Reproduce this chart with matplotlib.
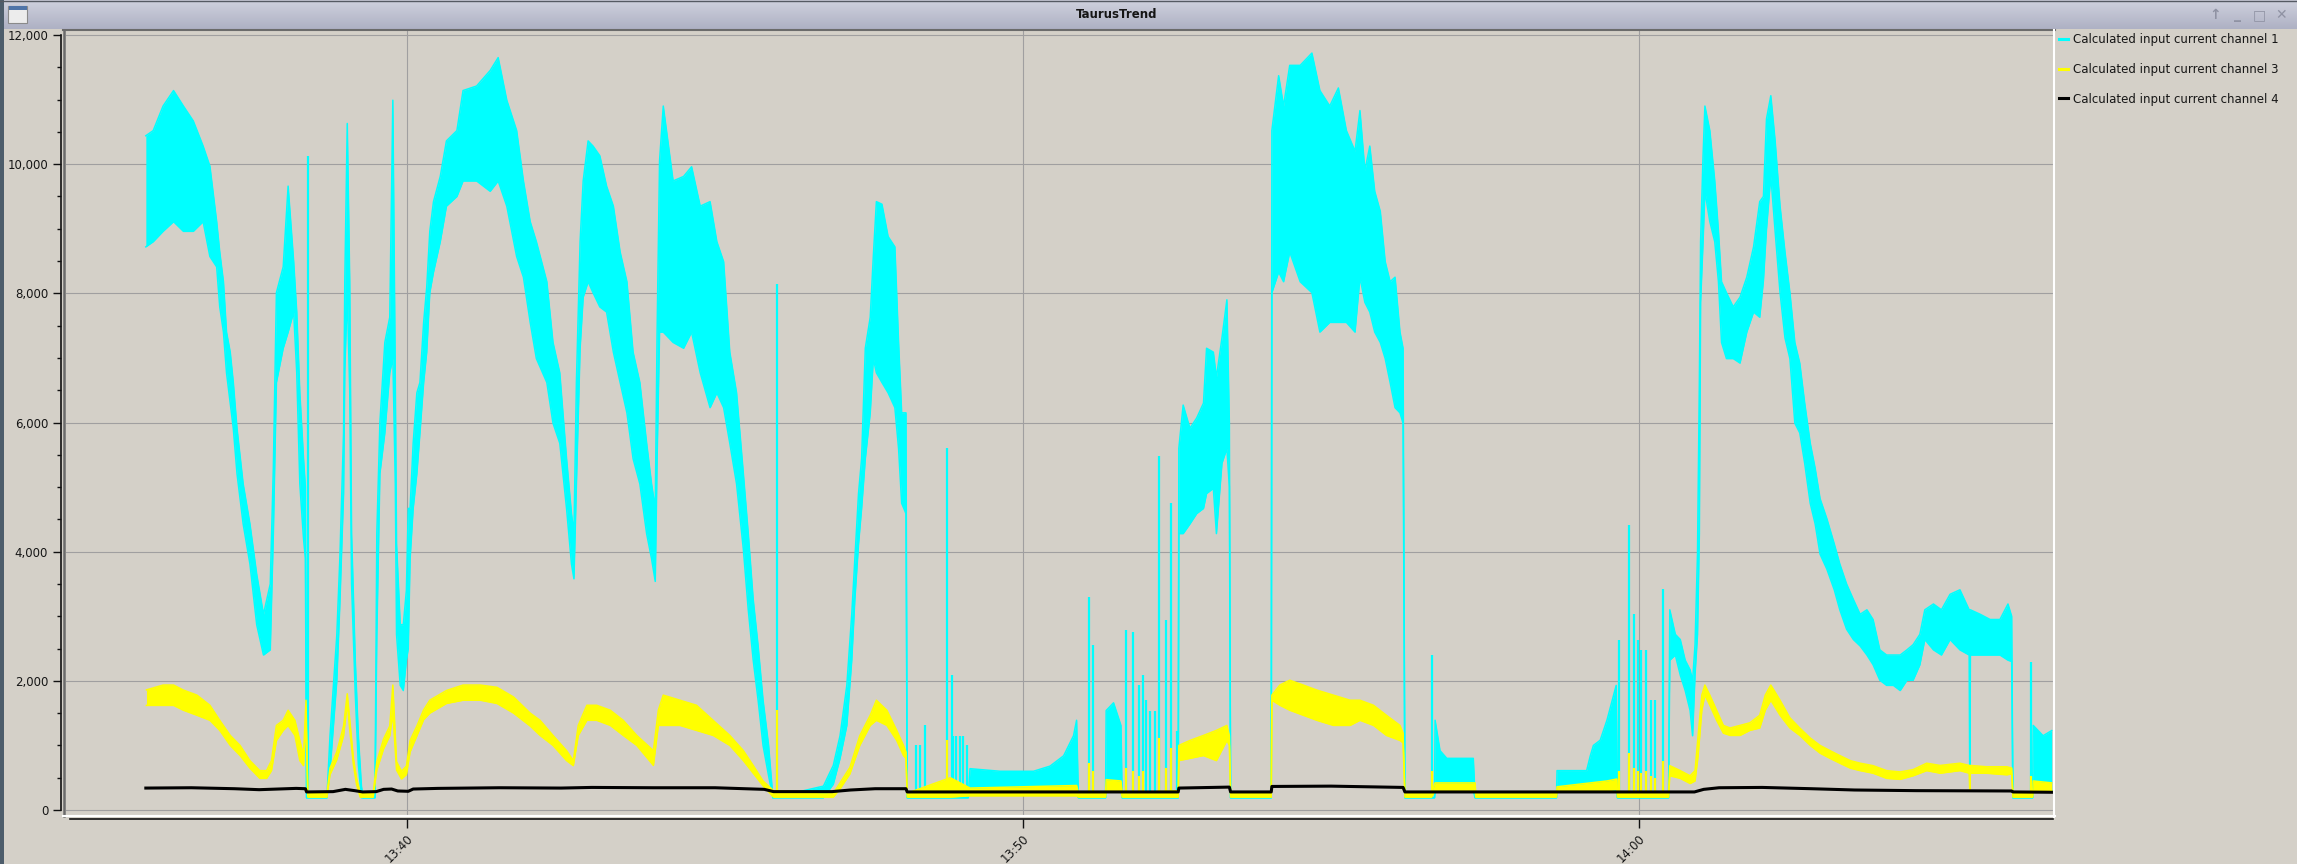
import numpy as np
import matplotlib
matplotlib.use("Agg")
import matplotlib.pyplot as plt
from matplotlib.lines import Line2D
from matplotlib.patches import Rectangle
from matplotlib.colors import LinearSegmentedColormap
from matplotlib.ticker import MultipleLocator, FixedLocator, FixedFormatter, StrMethodFormatter
from matplotlib.transforms import ScaledTranslation

# time is in minutes after 13:00
ch1_t = [35.76, 35.88, 36.04, 36.21, 36.37, 36.53, 36.69, 36.80, 36.91, 36.96, 37.02, 37.07, 37.13, 37.18,
         37.24, 37.34, 37.45, 37.56, 37.67, 37.78, 37.83, 37.88, 37.99, 38.07, 38.16, 38.21, 38.26, 38.32,
         38.35, 38.37, 38.70, 38.75, 38.86, 38.91, 38.97, 38.99, 39.03, 39.07, 39.10, 39.16, 39.21, 39.26,
         39.29, 39.48, 39.51, 39.56, 39.64, 39.72, 39.77, 39.81, 39.83, 39.89, 39.94, 39.99, 40.02, 40.05,
         40.10, 40.16, 40.21, 40.27, 40.32, 40.37, 40.43, 40.54, 40.64, 40.81, 40.91, 41.13, 41.35, 41.48,
         41.62, 41.78, 41.89, 42.00, 42.10, 42.27, 42.37, 42.48, 42.59, 42.67, 42.71, 42.75, 42.81, 42.86,
         42.94, 43.02, 43.13, 43.24, 43.35, 43.46, 43.57, 43.67, 43.78, 43.89, 43.97, 44.03, 44.06, 44.10,
         44.16, 44.32, 44.49, 44.62, 44.76, 44.92, 45.03, 45.14, 45.24, 45.35, 45.46, 45.54, 45.62, 45.70,
         45.78, 45.87, 45.94, 46.76, 46.92, 47.03, 47.14, 47.22, 47.27, 47.33, 47.38, 47.44, 47.52, 47.57,
         47.62, 47.71, 47.81, 47.92, 47.98, 48.03, 48.10, 48.12, 49.11, 49.14, 49.63, 50.17, 50.44, 50.66,
         50.82, 50.87, 50.90, 51.34, 51.35, 51.47, 51.59, 51.61, 52.52, 52.53, 52.60, 52.71, 52.82, 52.93,
         52.98, 53.09, 53.14, 53.23, 53.31, 53.35, 53.37, 54.03, 54.04, 54.15, 54.23, 54.33, 54.50, 54.69,
         54.82, 54.98, 55.12, 55.25, 55.39, 55.47, 55.55, 55.63, 55.71, 55.80, 55.88, 55.96, 56.04, 56.12,
         56.17, 56.20, 56.68, 56.69, 56.77, 56.88, 57.31, 57.34, 58.66, 58.67, 59.15, 59.21, 59.26, 59.37,
         59.48, 59.63, 59.65, 60.48, 60.50, 60.59, 60.67, 60.75, 60.83, 60.87, 60.91, 60.95, 60.98, 61.00,
         61.04, 61.07, 61.15, 61.23, 61.29, 61.34, 61.42, 61.53, 61.64, 61.75, 61.86, 61.96, 62.02, 62.07,
         62.14, 62.21, 62.29, 62.37, 62.45, 62.53, 62.61, 62.69, 62.78, 62.86, 62.94, 63.05, 63.17, 63.26,
         63.37, 63.48, 63.59, 63.70, 63.80, 63.91, 64.02, 64.13, 64.24, 64.35, 64.45, 64.56, 64.64, 64.78,
         64.91, 65.05, 65.21, 65.36, 65.37, 65.38, 65.54, 65.70, 65.86, 65.99, 66.05, 66.07, 66.39, 66.40,
         66.56, 66.70]
ch1_lo = [8720, 8800, 8960, 9110, 8960, 8960, 9110, 8570, 8410, 7790, 7400, 6770, 6300, 5910,
          5210, 4430, 3810, 2870, 2400, 2480, 4280, 6620, 7150, 7400, 7710, 6770, 5050, 4200,
          3900, 190, 190, 600, 2000, 3200, 4900, 6800, 8000, 6500, 3500, 1800, 700, 190,
          190, 190, 2700, 5210, 5840, 6770, 7000, 5050, 2720, 1930, 1850, 2320, 2500, 3890,
          4670, 5210, 5840, 6620, 7090, 8010, 8330, 8800, 9350, 9500, 9740, 9740, 9580, 9740,
          9350, 8570, 8250, 7550, 6990, 6620, 5990, 5680, 4670, 3810, 3580, 5050, 7150, 7940,
          8180, 8010, 7790, 7710, 7090, 6620, 6150, 5440, 5050, 4280, 3890, 3540, 5440, 7400,
          7400, 7240, 7150, 7400, 6770, 6230, 6460, 6230, 5680, 5050, 4040, 3100, 2320, 1700,
          1000, 530, 190, 190, 400, 800, 1310, 2320, 3260, 4120, 4670, 5440, 6150, 6990,
          6770, 6620, 6460, 6230, 5600, 4750, 4590, 190, 190, 300, 300, 300, 300, 300,
          300, 300, 190, 190, 300, 300, 300, 190, 190, 4280, 4280, 4430, 4590, 4670,
          4900, 4980, 4280, 5370, 5600, 5000, 190, 190, 8010, 8330, 8180, 8640, 8180, 8010,
          7400, 7550, 7550, 7550, 7400, 8250, 7860, 7710, 7400, 7240, 6990, 6620, 6230, 6150,
          5990, 190, 190, 300, 300, 300, 300, 190, 190, 300, 300, 300, 300, 300,
          300, 300, 190, 190, 2320, 2400, 2090, 1850, 1540, 1150, 2100, 2720, 4280, 7860,
          8800, 9580, 9110, 8800, 8180, 7240, 6990, 6990, 6920, 7400, 7710, 7630, 8200, 9000,
          9820, 8960, 8010, 7310, 6990, 5990, 5840, 5370, 4750, 4430, 3960, 3730, 3410, 3100,
          2800, 2640, 2540, 2400, 2250, 2010, 1930, 1930, 1850, 2010, 2010, 2250, 2640, 2480,
          2400, 2640, 2480, 2400, 300, 2400, 2400, 2400, 2400, 2320, 2300, 190, 190, 300,
          300, 300]
ch1_hi = [10440, 10520, 10900, 11140, 10900, 10670, 10280, 9970, 9110, 8640, 8180, 7400, 7090, 6620,
          5910, 5050, 4430, 3650, 3030, 3500, 5290, 8010, 8410, 9660, 8490, 7710, 6460, 5440,
          5000, 190, 190, 1150, 2700, 3900, 5840, 8180, 10630, 8180, 4280, 2320, 1150, 370,
          190, 190, 4280, 6000, 7240, 7630, 10990, 6620, 4120, 2870, 2870, 3400, 4670, 4670,
          5680, 6460, 6620, 7550, 8090, 8960, 9420, 9810, 10360, 10520, 11140, 11210, 11450, 11650,
          10990, 10520, 9740, 9110, 8800, 8180, 7240, 6770, 5440, 4590, 4280, 6620, 8800, 9740,
          10360, 10280, 10130, 9660, 9350, 8640, 8180, 7090, 6620, 5680, 5050, 4670, 7400, 10050,
          10900, 9740, 9810, 9960, 9350, 9420, 8800, 8490, 7090, 6460, 5210, 4280, 3260, 2540,
          1700, 1000, 190, 370, 690, 1150, 1930, 3030, 3890, 4900, 5440, 7150, 7630, 8570,
          9420, 9380, 8880, 8720, 7240, 6150, 6150, 190, 190, 640, 600, 600, 680, 840,
          1150, 1390, 190, 190, 1540, 1660, 1310, 190, 190, 5600, 6270, 5910, 6070, 6300,
          7150, 7090, 6700, 7310, 7900, 5990, 190, 190, 10520, 11370, 10900, 11530, 11530, 11720,
          11140, 10900, 11180, 10520, 10200, 10830, 9900, 10280, 9580, 9270, 8490, 8180, 8250, 7400,
          7150, 190, 190, 1390, 920, 800, 800, 190, 190, 610, 610, 840, 1000, 1080,
          1390, 1930, 190, 190, 3100, 2720, 2640, 2320, 2170, 2000, 2560, 3970, 6620, 8800,
          10130, 10900, 10520, 9740, 8960, 8180, 8010, 7790, 7940, 8250, 8720, 9420, 9500, 10700,
          11060, 10360, 9350, 8640, 8010, 7240, 6920, 6300, 5680, 5290, 4820, 4510, 4120, 3810,
          3500, 3260, 3030, 3100, 2950, 2480, 2400, 2400, 2400, 2480, 2560, 2720, 3100, 3190,
          3100, 3340, 3410, 3100, 3100, 3100, 3030, 2950, 2950, 3190, 3000, 190, 190, 1310,
          1150, 1230]

ch1_spike_t = [38.39, 46.00, 48.26, 48.33, 48.41, 48.77, 48.84, 48.87, 48.91, 48.97, 49.02, 49.09,
               51.07, 51.13, 51.68, 51.78, 51.89, 51.94, 52.00, 52.06, 52.14, 52.20, 52.32, 52.40,
               52.50, 56.64, 59.68, 59.84, 59.92, 59.99, 60.04, 60.11, 60.19, 60.26, 60.39, 66.36]
ch1_spike_v = [10130, 8140, 1000, 1000, 1310, 5600, 2090, 1150, 1150, 1150, 1150, 1000,
               3300, 2560, 2790, 2750, 1930, 2090, 1700, 1540, 1540, 5480, 2950, 4750,
               1230, 2400, 2640, 4420, 3040, 2640, 2480, 2480, 1700, 1700, 3420, 2290]

ch3_t = [35.77, 36.04, 36.21, 36.37, 36.59, 36.80, 36.96, 37.13, 37.29, 37.45, 37.61, 37.72, 37.80, 37.88,
         37.99, 38.07, 38.18, 38.26, 38.32, 38.36, 38.39, 38.70, 38.75, 38.86, 38.97, 39.03, 39.07, 39.13,
         39.18, 39.24, 39.45, 39.51, 39.62, 39.72, 39.77, 39.83, 39.91, 39.99, 40.05, 40.16, 40.27, 40.37,
         40.64, 40.91, 41.19, 41.46, 41.73, 42.00, 42.16, 42.37, 42.59, 42.70, 42.78, 42.92, 43.08, 43.30,
         43.51, 43.73, 44.00, 44.08, 44.16, 44.43, 44.70, 44.97, 45.24, 45.46, 45.62, 45.78, 45.95, 46.92,
         47.03, 47.19, 47.35, 47.52, 47.62, 47.79, 47.95, 48.06, 48.10, 48.12, 48.82, 49.14, 50.87, 50.90,
         51.34, 51.35, 51.59, 51.61, 52.52, 52.53, 52.71, 52.93, 53.14, 53.31, 53.35, 53.37, 54.03, 54.04,
         54.17, 54.33, 54.55, 54.77, 55.04, 55.31, 55.47, 55.69, 55.90, 56.12, 56.17, 56.20, 56.63, 56.69,
         57.34, 57.35, 58.66, 58.67, 59.48, 59.64, 59.65, 60.48, 60.50, 60.67, 60.83, 60.91, 60.96, 61.02,
         61.07, 61.15, 61.26, 61.37, 61.48, 61.64, 61.80, 61.96, 62.05, 62.14, 62.24, 62.29, 62.45, 62.61,
         62.78, 62.94, 63.10, 63.26, 63.43, 63.59, 63.80, 64.02, 64.24, 64.45, 64.67, 64.89, 65.21, 65.36,
         65.37, 65.38, 65.64, 65.97, 66.05, 66.07, 66.39, 66.40, 66.70]
ch3_lo = [1620, 1620, 1620, 1545, 1467, 1389, 1233, 1000, 843, 648, 490, 490, 610, 1077,
          1233, 1310, 1155, 765, 687, 1400, 200, 200, 550, 780, 1150, 1650, 1250, 700,
          400, 200, 200, 620, 950, 1150, 1500, 620, 480, 550, 900, 1150, 1400, 1500,
          1650, 1700, 1700, 1650, 1500, 1300, 1155, 1000, 765, 687, 1155, 1389, 1389, 1310,
          1155, 1000, 690, 1310, 1310, 1310, 1233, 1155, 1000, 765, 570, 375, 200, 200,
          330, 560, 1000, 1310, 1389, 1310, 1077, 843, 800, 200, 200, 220, 220, 200,
          200, 300, 300, 200, 200, 765, 800, 843, 765, 1077, 1000, 200, 200, 1700,
          1622, 1545, 1467, 1389, 1310, 1310, 1389, 1310, 1155, 1077, 1040, 200, 200, 300,
          300, 200, 200, 280, 300, 320, 200, 200, 530, 490, 410, 450, 843, 1545,
          1779, 1622, 1389, 1190, 1155, 1155, 1233, 1270, 1545, 1700, 1545, 1467, 1270, 1155,
          1000, 880, 800, 725, 648, 610, 570, 490, 475, 530, 610, 570, 610, 570,
          300, 570, 570, 545, 560, 200, 200, 300, 300]
ch3_hi = [1860, 1935, 1935, 1857, 1779, 1622, 1389, 1155, 1000, 765, 610, 610, 765, 1310,
          1389, 1545, 1389, 1077, 843, 1700, 260, 260, 650, 900, 1300, 1800, 1400, 800,
          500, 260, 260, 750, 1100, 1300, 1935, 750, 600, 680, 1077, 1300, 1550, 1700,
          1850, 1935, 1935, 1900, 1750, 1500, 1389, 1155, 920, 765, 1310, 1622, 1622, 1545,
          1389, 1155, 920, 1545, 1779, 1700, 1622, 1389, 1155, 920, 690, 450, 300, 260,
          420, 660, 1150, 1467, 1700, 1545, 1233, 1000, 900, 260, 500, 340, 380, 260,
          260, 470, 450, 260, 300, 1000, 1077, 1155, 1233, 1310, 1150, 260, 260, 1779,
          1935, 2010, 1935, 1857, 1779, 1700, 1700, 1622, 1467, 1310, 1190, 260, 260, 420,
          420, 260, 260, 360, 450, 480, 260, 260, 687, 610, 530, 610, 1155, 1779,
          1935, 1779, 1545, 1310, 1270, 1310, 1350, 1467, 1779, 1935, 1779, 1700, 1428, 1270,
          1115, 1000, 920, 843, 765, 725, 687, 610, 590, 625, 725, 690, 725, 690,
          690, 690, 670, 670, 650, 260, 260, 450, 420]

ch3_spike_t = [46.00, 48.77, 51.07, 51.13, 51.68, 51.78, 51.89, 51.94, 52.20, 52.32, 52.40, 56.64,
               59.68, 59.84, 59.92, 59.99, 60.04, 60.11, 60.19, 60.26, 60.39, 66.36]
ch3_spike_v = [1545, 1077, 725, 610, 650, 610, 530, 610, 1115, 650, 960, 610,
               610, 880, 650, 610, 570, 610, 530, 490, 765, 530]

ch4_t = [35.76, 36.50, 37.20, 37.60, 37.90, 38.20, 38.35, 38.37, 38.80, 39.00, 39.15, 39.28, 39.50, 39.62,
         39.75, 39.85, 40.02, 40.10, 40.50, 41.50, 42.50, 43.00, 44.00, 45.00, 45.80, 45.95, 46.90, 47.20,
         47.60, 48.10, 48.12, 52.52, 52.53, 53.35, 53.37, 54.03, 54.04, 55.00, 56.17, 56.20, 60.90, 61.05,
         61.30, 62.00, 62.80, 63.50, 64.50, 66.05, 66.07, 66.70]
ch4_v = [340, 345, 330, 315, 325, 335, 330, 280, 285, 320, 300, 280, 285, 320,
         325, 295, 290, 325, 335, 345, 340, 350, 345, 345, 320, 285, 285, 310,
         330, 330, 280, 280, 340, 355, 280, 280, 365, 370, 350, 280, 280, 320,
         345, 350, 330, 310, 300, 295, 280, 275]

labels = ["Calculated input current channel 1",
          "Calculated input current channel 3",
          "Calculated input current channel 4"]
colors = ["#00ffff", "#ffff00", "#000000"]
xticks = [40, 50, 60]
xticklabels = ["13:40", "13:50", "14:00"]

W, H = 2297, 864
BG = "#d4d0c8"


def fx(x):
    return x / W


def fy(y):
    return 1 - y / H


fig = plt.figure(figsize=(W / 100, H / 100), dpi=100, facecolor=BG)

# title bar
tb = fig.add_axes([0, fy(29), 1, 29 / H])
grad = np.linspace(0, 1, 64).reshape(-1, 1)
tb.imshow(grad, aspect="auto", cmap=LinearSegmentedColormap.from_list("tb", ["#cfd1dd", "#aeb1c4"]),
          extent=[0, 1, 0, 1])
tb.axis("off")
fig.text(fx(1117), fy(14.5), "TaurusTrend", ha="center", va="center", fontsize=8.5,
         fontweight="bold", color="#151515")
for xb, s in zip([2215, 2237, 2259, 2281], ["↑", "_", "□", "✕"]):
    fig.text(fx(xb), fy(15), s, ha="center", va="center", fontsize=10, color="#8f92a3",
             fontweight="bold")
fig.add_artist(Rectangle((fx(8), fy(23)), 19 / W, 17 / H, transform=fig.transFigure,
                         facecolor="#ececec", edgecolor="#8a8a8a", lw=0.8))
fig.add_artist(Rectangle((fx(8.5), fy(10)), 18 / W, 3.5 / H, transform=fig.transFigure,
                         facecolor="#4f74a8", edgecolor="none"))
fig.add_artist(Rectangle((0, 0), 3.5 / W, 1, transform=fig.transFigure,
                         facecolor="#4d5d6b", edgecolor="none"))
fig.add_artist(Line2D([0, 1], [fy(0.5), fy(0.5)], transform=fig.transFigure, color="#555a62", lw=1))

# plot canvas
ax = fig.add_axes([fx(66), fy(815), (2053 - 66) / W, (815 - 31) / H])
ax.set_facecolor(BG)
ax.set_xlim(34.464, 66.721)
ax.set_ylim(-77, 12062)

ax.fill_between(ch1_t, ch1_lo, ch1_hi, color=colors[0], lw=0, zorder=2)
ax.plot(ch1_t, ch1_lo, color=colors[0], lw=1.1, zorder=2)
ax.plot(ch1_t, ch1_hi, color=colors[0], lw=1.1, zorder=2)
ax.vlines(ch1_spike_t, 190, ch1_spike_v, color=colors[0], lw=1.6, zorder=2)

ax.fill_between(ch3_t, ch3_lo, ch3_hi, color=colors[1], lw=0, zorder=3)
ax.plot(ch3_t, ch3_lo, color=colors[1], lw=1.1, zorder=3)
ax.plot(ch3_t, ch3_hi, color=colors[1], lw=1.1, zorder=3)
ax.vlines(ch3_spike_t, 230, ch3_spike_v, color=colors[1], lw=1.6, zorder=3)

ax.plot(ch4_t, ch4_v, color=colors[2], lw=2.2, zorder=4)

ax.grid(True, which="major", color="#a09fa0", lw=0.8)
ax.set_axisbelow(True)

ax.yaxis.set_major_locator(MultipleLocator(2000))
ax.yaxis.set_minor_locator(MultipleLocator(500))
ax.yaxis.set_major_formatter(StrMethodFormatter("{x:,.0f}"))
ax.xaxis.set_major_locator(FixedLocator(xticks))
ax.xaxis.set_major_formatter(FixedFormatter(xticklabels))

for side in ["top", "right"]:
    ax.spines[side].set_visible(False)
ax.spines["left"].set_position(("outward", 3.6))
ax.spines["left"].set_bounds(0, 12000)
ax.spines["bottom"].set_position(("outward", 2.9))
ax.spines["bottom"].set_bounds(34.53, 66.721)
for side in ["left", "bottom"]:
    ax.spines[side].set_linewidth(1.2)
    ax.spines[side].set_color("#111111")

ax.tick_params(axis="y", which="major", length=5.8, width=1, pad=3.4, labelsize=8.5,
               labelcolor="#161616", color="#111111")
ax.tick_params(axis="y", which="minor", length=2.9, width=1, color="#111111")
ax.tick_params(axis="x", which="major", length=6.5, width=1, pad=6.5, labelsize=8.5,
               labelcolor="#161616", color="#111111", labelrotation=45)

fig.canvas.draw()
shift = ScaledTranslation(4 / 100, 0, fig.dpi_scale_trans)
for lbl in ax.get_xticklabels():
    lbl.set_rotation(45)
    lbl.set_ha("right")
    lbl.set_va("center")
    lbl.set_rotation_mode("anchor")
    lbl.set_transform(lbl.get_transform() + shift)

# sunken canvas frame
fig.add_artist(Line2D([fx(63), fx(2055)], [fy(30), fy(30)], transform=fig.transFigure, color="#6b6b6b", lw=1.5))
fig.add_artist(Line2D([fx(64.2), fx(64.2)], [fy(29.5), fy(816)], transform=fig.transFigure, color="#6b6b6b", lw=1.8))
fig.add_artist(Line2D([fx(63), fx(2055)], [fy(816), fy(816)], transform=fig.transFigure, color="#ffffff", lw=1.5))
fig.add_artist(Line2D([fx(2054), fx(2054)], [fy(29.5), fy(817)], transform=fig.transFigure, color="#ffffff", lw=1.5))

# legend panel
handles = [Line2D([], [], color=c, lw=2.2) for c in colors]
fig.legend(handles, labels, loc="upper left", bbox_to_anchor=(fx(2059), fy(33)), frameon=False,
           fontsize=8.5, handlelength=0.75, handletextpad=0.45, labelspacing=1.42,
           borderpad=0, borderaxespad=0, labelcolor="#161616")

fig.savefig("out.png", dpi=100, facecolor=BG)
